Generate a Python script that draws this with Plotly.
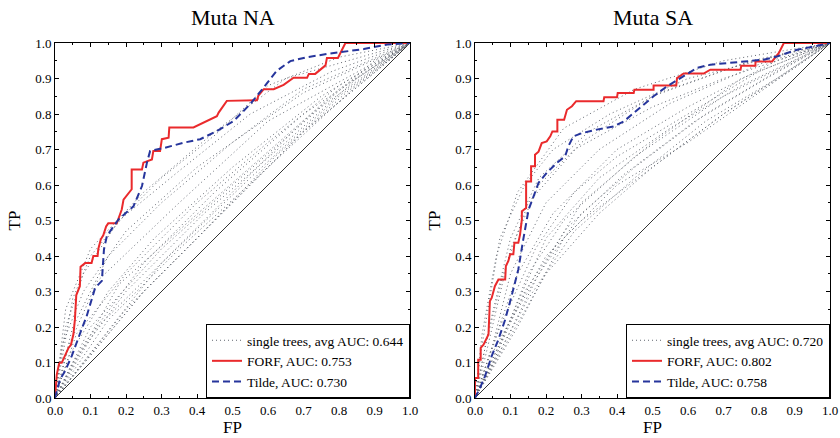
import plotly.graph_objects as go

# ---- Muta NA ----
na_forf_fp = [0, 0.005, 0.012, 0.019, 0.038, 0.045, 0.052, 0.056, 0.06, 0.07, 0.072, 0.085, 0.103,
              0.108, 0.12, 0.122, 0.129, 0.136, 0.144, 0.15, 0.174, 0.179, 0.188, 0.193, 0.216,
              0.216, 0.245, 0.249, 0.273, 0.277, 0.296, 0.301, 0.32, 0.322, 0.39, 0.456, 0.461,
              0.484, 0.569, 0.573, 0.588, 0.616, 0.644, 0.672, 0.71, 0.715, 0.733, 0.762, 0.766,
              0.797, 0.802, 0.818, 1.0]
na_forf_tp = [0, 0.066, 0.099, 0.099, 0.141, 0.15, 0.18, 0.22, 0.29, 0.315, 0.37, 0.38, 0.38,
              0.40, 0.40, 0.42, 0.447, 0.458, 0.483, 0.492, 0.492, 0.508, 0.531, 0.559, 0.588,
              0.644, 0.644, 0.663, 0.672, 0.696, 0.696, 0.729, 0.733, 0.762, 0.762, 0.794, 0.804,
              0.837, 0.839, 0.852, 0.87, 0.87, 0.882, 0.902, 0.902, 0.913, 0.913, 0.937, 0.958,
              0.958, 0.969, 1.0, 1.0]
na_tilde_fp = [0, 0.014, 0.028, 0.047, 0.071, 0.089, 0.113, 0.132, 0.138, 0.146, 0.165, 0.179,
               0.221, 0.245, 0.259, 0.268, 0.31, 0.362, 0.409, 0.456, 0.503, 0.55, 0.588, 0.625,
               0.663, 0.71, 0.766, 0.804, 0.87, 0.936, 1.0]
na_tilde_tp = [0, 0.052, 0.075, 0.118, 0.183, 0.23, 0.31, 0.33, 0.419, 0.456, 0.484, 0.503,
               0.54, 0.597, 0.663, 0.696, 0.705, 0.719, 0.729, 0.752, 0.78, 0.828, 0.875, 0.922,
               0.949, 0.96, 0.969, 0.974, 0.983, 0.996, 1.0]
na_trees = [
    ([0, 0.05, 0.1, 0.2, 0.3, 0.45, 0.6, 0.8, 1], [0, 0.28, 0.4, 0.52, 0.62, 0.74, 0.88, 0.96, 1]),
    ([0, 0.03, 0.1, 0.25, 0.45, 0.65, 1], [0, 0.25, 0.42, 0.58, 0.75, 0.9, 1]),
    ([0, 0.05, 0.15, 0.3, 0.5, 0.7, 1], [0, 0.2, 0.4, 0.55, 0.72, 0.87, 1]),
    ([0, 0.04, 0.12, 0.35, 0.6, 1], [0, 0.15, 0.33, 0.55, 0.78, 1]),
    ([0, 0.06, 0.2, 0.4, 0.6, 0.8, 1], [0, 0.18, 0.35, 0.55, 0.72, 0.88, 1]),
    ([0, 0.08, 0.25, 0.45, 0.7, 1], [0, 0.15, 0.38, 0.58, 0.8, 1]),
    ([0, 0.1, 0.3, 0.5, 0.75, 1], [0, 0.2, 0.42, 0.6, 0.82, 1]),
    ([0, 0.05, 0.2, 0.42, 0.65, 0.85, 1], [0, 0.1, 0.3, 0.52, 0.72, 0.9, 1]),
    ([0, 0.12, 0.3, 0.55, 0.8, 1], [0, 0.2, 0.38, 0.62, 0.85, 1]),
    ([0, 0.15, 0.35, 0.6, 0.85, 1], [0, 0.22, 0.42, 0.65, 0.88, 1]),
    ([0, 0.2, 0.4, 0.62, 0.82, 1], [0, 0.25, 0.45, 0.68, 0.86, 1]),
    ([0, 0.1, 0.25, 0.5, 0.7, 1], [0, 0.12, 0.3, 0.55, 0.75, 1]),
    ([0, 0.25, 0.45, 0.7, 1], [0, 0.3, 0.5, 0.75, 1]),
    ([0, 0.02, 0.08, 0.2, 0.4, 0.7, 1], [0, 0.15, 0.3, 0.47, 0.65, 0.86, 1]),
    ([0, 0.18, 0.38, 0.55, 0.8, 1], [0, 0.32, 0.5, 0.65, 0.87, 1]),
    ([0, 0.3, 0.5, 0.7, 0.9, 1], [0, 0.38, 0.58, 0.78, 0.95, 1]),
    ([0, 0.04, 0.15, 0.28, 0.5, 0.75, 1], [0, 0.12, 0.3, 0.45, 0.65, 0.85, 1]),
    ([0, 0.03, 0.08, 0.18, 0.35, 0.55, 0.78, 1], [0, 0.2, 0.35, 0.5, 0.64, 0.8, 0.92, 1]),
]

# ---- Muta SA ----
sa_forf_fp = [0, 0, 0.009, 0.009, 0.016, 0.016, 0.024, 0.038, 0.042, 0.047, 0.056, 0.066, 0.085,
              0.087, 0.094, 0.099, 0.108, 0.111, 0.122, 0.127, 0.132, 0.132, 0.144, 0.144, 0.158,
              0.158, 0.169, 0.169, 0.179, 0.188, 0.202, 0.212, 0.218, 0.232, 0.232, 0.251, 0.259,
              0.273, 0.285, 0.362, 0.364, 0.4, 0.402, 0.447, 0.449, 0.503, 0.503, 0.567, 0.569,
              0.588, 0.644, 0.663, 0.748, 0.75, 0.79, 0.79, 0.837, 0.856, 0.87, 1.0]
sa_forf_tp = [0, 0.056, 0.056, 0.108, 0.108, 0.141, 0.15, 0.179, 0.273, 0.282, 0.315, 0.334, 0.334,
              0.372, 0.386, 0.405, 0.405, 0.437, 0.437, 0.461, 0.503, 0.526, 0.535, 0.61, 0.61,
              0.653, 0.653, 0.685, 0.694, 0.718, 0.723, 0.737, 0.751, 0.751, 0.784, 0.784, 0.812,
              0.822, 0.836, 0.836, 0.847, 0.847, 0.859, 0.859, 0.868, 0.868, 0.88, 0.88, 0.901,
              0.914, 0.914, 0.925, 0.925, 0.936, 0.936, 0.948, 0.948, 0.972, 1.0, 1.0]
sa_tilde_fp = [0, 0.014, 0.028, 0.047, 0.066, 0.085, 0.103, 0.122, 0.136, 0.146, 0.151, 0.165,
               0.179, 0.202, 0.23, 0.254, 0.263, 0.277, 0.301, 0.343, 0.39, 0.419, 0.447, 0.475,
               0.503, 0.541, 0.588, 0.626, 0.663, 0.71, 0.757, 0.813, 0.851, 0.907, 0.964, 1.0]
sa_tilde_tp = [0, 0.028, 0.061, 0.118, 0.165, 0.221, 0.287, 0.362, 0.447, 0.503, 0.531, 0.568,
               0.606, 0.634, 0.662, 0.681, 0.709, 0.737, 0.746, 0.756, 0.765, 0.779, 0.803, 0.826,
               0.85, 0.878, 0.906, 0.93, 0.939, 0.944, 0.948, 0.953, 0.962, 0.981, 0.992, 1.0]
sa_trees = [
    ([0, 0.02, 0.06, 0.12, 0.25, 0.45, 0.7, 1], [0, 0.18, 0.4, 0.58, 0.76, 0.87, 0.95, 1]),
    ([0, 0.03, 0.08, 0.15, 0.3, 0.5, 0.75, 1], [0, 0.15, 0.35, 0.55, 0.72, 0.85, 0.94, 1]),
    ([0, 0.05, 0.1, 0.2, 0.35, 0.55, 0.8, 1], [0, 0.15, 0.35, 0.55, 0.7, 0.83, 0.94, 1]),
    ([0, 0.04, 0.12, 0.22, 0.4, 0.6, 0.85, 1], [0, 0.12, 0.35, 0.52, 0.7, 0.82, 0.95, 1]),
    ([0, 0.06, 0.15, 0.25, 0.45, 0.7, 1], [0, 0.12, 0.35, 0.5, 0.68, 0.85, 1]),
    ([0, 0.08, 0.18, 0.3, 0.45, 0.65, 0.85, 1], [0, 0.15, 0.35, 0.52, 0.65, 0.8, 0.92, 1]),
    ([0, 0.1, 0.2, 0.3, 0.5, 0.7, 0.9, 1], [0, 0.22, 0.4, 0.5, 0.65, 0.8, 0.93, 1]),
    ([0, 0.05, 0.14, 0.26, 0.42, 0.62, 0.82, 1], [0, 0.1, 0.3, 0.48, 0.63, 0.78, 0.9, 1]),
    ([0, 0.03, 0.1, 0.18, 0.28, 0.5, 0.7, 1], [0, 0.12, 0.42, 0.6, 0.7, 0.82, 0.9, 1]),
    ([0, 0.12, 0.25, 0.4, 0.6, 0.8, 1], [0, 0.2, 0.45, 0.6, 0.72, 0.86, 1]),
    ([0, 0.02, 0.07, 0.14, 0.22, 0.38, 0.6, 1], [0, 0.15, 0.45, 0.6, 0.7, 0.8, 0.9, 1]),
    ([0, 0.06, 0.15, 0.3, 0.5, 0.75, 1], [0, 0.15, 0.3, 0.55, 0.72, 0.9, 1]),
    ([0, 0.09, 0.2, 0.35, 0.55, 0.75, 1], [0, 0.2, 0.45, 0.62, 0.76, 0.88, 1]),
    ([0, 0.04, 0.1, 0.18, 0.32, 0.52, 0.78, 1], [0, 0.2, 0.45, 0.62, 0.75, 0.86, 0.95, 1]),
    ([0, 0.15, 0.28, 0.45, 0.65, 0.85, 1], [0, 0.28, 0.47, 0.62, 0.78, 0.9, 1]),
    ([0, 0.07, 0.17, 0.28, 0.4, 0.6, 0.8, 1], [0, 0.2, 0.42, 0.58, 0.68, 0.8, 0.92, 1]),
    ([0, 0.2, 0.35, 0.5, 0.7, 0.85, 1], [0, 0.35, 0.52, 0.65, 0.8, 0.9, 1]),
]

panels = [
    ("Muta NA", na_trees, na_forf_fp, na_forf_tp, na_tilde_fp, na_tilde_tp, "0.644", "0.753", "0.730"),
    ("Muta SA", sa_trees, sa_forf_fp, sa_forf_tp, sa_tilde_fp, sa_tilde_tp, "0.720", "0.802", "0.758"),
]
ticks = [0, 0.1, 0.2, 0.3, 0.4, 0.5, 0.6, 0.7, 0.8, 0.9, 1.0]

SERIF = "Liberation Serif, Times New Roman, serif"
RED = "#ea2a2c"
BLUE = "#26359c"
GREY = "#626770"

W, H = 840, 438
x_doms = [(55 / W, 410 / W), (475 / W, 830 / W)]
y_dom = (1 - 398 / H, 1 - 43 / H)

fig = go.Figure()
layout = dict(width=W, height=H, margin=dict(l=0, r=0, t=0, b=0, autoexpand=False),
              paper_bgcolor="white", plot_bgcolor="white",
              font=dict(family=SERIF, size=13, color="black"), annotations=[])

for i, (title, trees, ffp, ftp, tfp, ttp, a_tree, a_forf, a_tilde) in enumerate(panels):
    sfx = "" if i == 0 else str(i + 1)
    xa, ya = "x" + sfx, "y" + sfx
    leg = "legend" + sfx

    fig.add_trace(go.Scatter(x=[0, 1], y=[0, 1], mode="lines", xaxis=xa, yaxis=ya,
                             line=dict(color="black", width=0.8), showlegend=False, hoverinfo="skip"))
    for k, (tx, ty) in enumerate(trees):
        fig.add_trace(go.Scatter(x=tx, y=ty, mode="lines", xaxis=xa, yaxis=ya,
                                 line=dict(color=GREY, width=1, dash="1px,3px"),
                                 name="single trees, avg AUC: " + a_tree, legend=leg,
                                 legendgroup="trees" + sfx, showlegend=(k == 0)))
    fig.add_trace(go.Scatter(x=ffp, y=ftp, mode="lines", xaxis=xa, yaxis=ya,
                             line=dict(color=RED, width=2), legend=leg,
                             name="FORF, AUC: " + a_forf))
    fig.add_trace(go.Scatter(x=tfp, y=ttp, mode="lines", xaxis=xa, yaxis=ya,
                             line=dict(color=BLUE, width=2, dash="7px,4px"), legend=leg,
                             name="Tilde, AUC: " + a_tilde))

    axis_common = dict(range=[0, 1], tickvals=ticks, ticktext=["%.1f" % t for t in ticks],
                       ticks="inside", ticklen=4, tickcolor="black", showline=True,
                       linecolor="black", linewidth=1, mirror="ticks", showgrid=False,
                       zeroline=False, tickfont=dict(family=SERIF, size=13), automargin=False,
                       minor=dict(ticks="inside", ticklen=2, dtick=0.05, tickcolor="black"))
    layout["xaxis" + sfx] = dict(axis_common, domain=x_doms[i], anchor=ya,
                                 title=dict(text="FP", font=dict(family=SERIF, size=17), standoff=2))
    layout["yaxis" + sfx] = dict(axis_common, domain=y_dom, anchor=xa,
                                 title=dict(text="TP", font=dict(family=SERIF, size=17), standoff=10))
    layout[leg] = dict(x=x_doms[i][1], y=y_dom[0], xanchor="right", yanchor="bottom",
                       bgcolor="white", bordercolor="black", borderwidth=1,
                       font=dict(family=SERIF, size=13.5), itemwidth=30, tracegroupgap=0)
    layout["annotations"].append(dict(text=title, x=(x_doms[i][0] + x_doms[i][1]) / 2, y=1 - 18 / H,
                                      xref="paper", yref="paper", showarrow=False,
                                      xanchor="center", yanchor="middle",
                                      font=dict(family=SERIF, size=22)))

fig.update_layout(**layout)
fig.write_html("out.html", config={"displayModeBar": False},
               post_script="document.body.style.margin='0';")
